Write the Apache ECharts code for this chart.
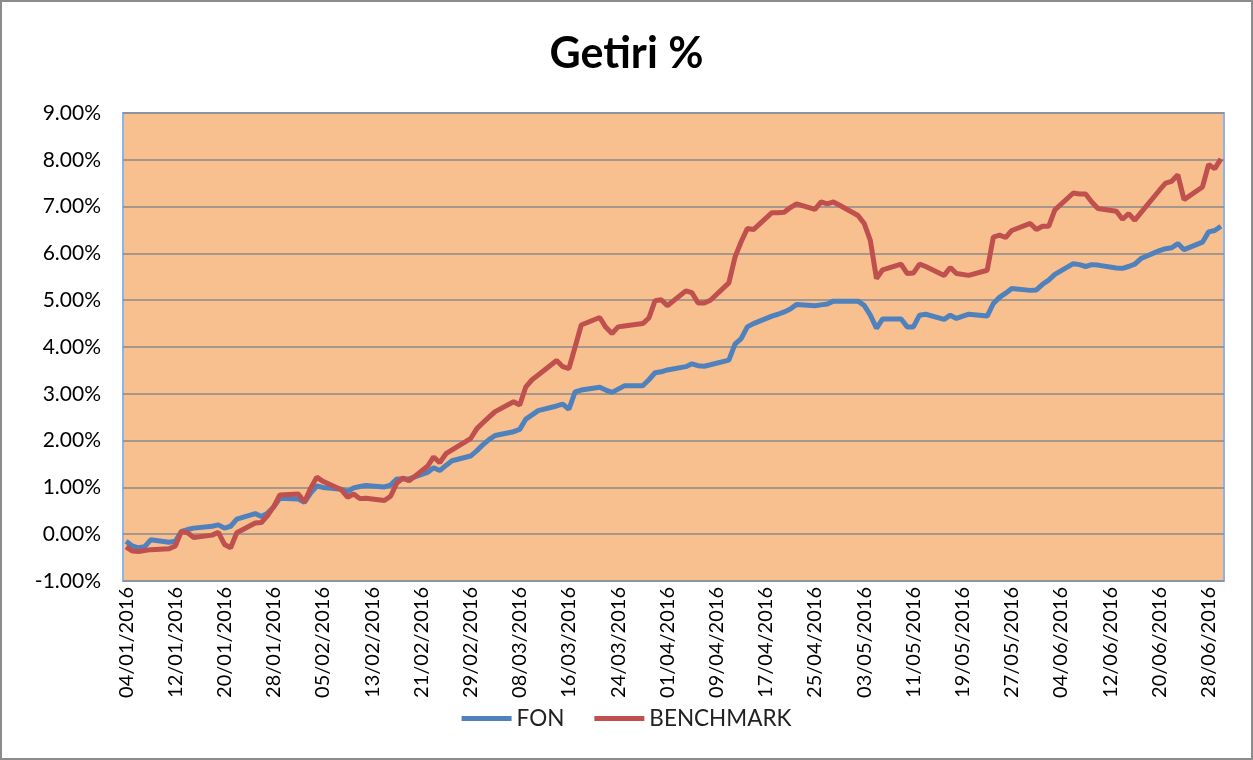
<!DOCTYPE html>
<html>
<head>
<meta charset="utf-8">
<title>Getiri %</title>
<script src="https://cdn.jsdelivr.net/npm/echarts@6/dist/echarts.min.js"></script>
<style>
  html, body { margin: 0; padding: 0; background: #fff; }
  #main { width: 1253px; height: 760px; box-sizing: border-box; border: 2px solid #8c8c8c; }
</style>
</head>
<body>
<div id="main"></div>
<script>
// gozlem gunleri (is gunleri, 2016)
var days = [
  '04/01','05/01','06/01','07/01','08/01','11/01','12/01','13/01','14/01','15/01',
  '18/01','19/01','20/01','21/01','22/01','25/01','26/01','27/01','28/01','29/01',
  '01/02','02/02','03/02','04/02','05/02','08/02','09/02','10/02','11/02','12/02',
  '15/02','16/02','17/02','18/02','19/02','22/02','23/02','24/02','25/02','26/02','29/02',
  '01/03','02/03','03/03','04/03','07/03','08/03','09/03','10/03','11/03',
  '14/03','15/03','16/03','17/03','18/03','21/03','22/03','23/03','24/03','25/03',
  '28/03','29/03','30/03','31/03',
  '01/04','04/04','05/04','06/04','07/04','08/04','11/04','12/04','13/04','14/04','15/04',
  '18/04','19/04','20/04','21/04','22/04','25/04','26/04','27/04','28/04','29/04',
  '02/05','03/05','04/05','05/05','06/05','09/05','10/05','11/05','12/05','13/05',
  '16/05','17/05','18/05','20/05','23/05','24/05','25/05','26/05','27/05','30/05','31/05',
  '01/06','02/06','03/06','06/06','07/06','08/06','09/06','10/06',
  '13/06','14/06','15/06','16/06','17/06','20/06','21/06','22/06','23/06','24/06',
  '27/06','28/06','29/06','30/06'
];

// FON getirisi (%)
var fon = [
  -0.15,-0.25,-0.29,-0.27,-0.12,-0.17,-0.15,0.06,0.10,0.13,
  0.17,0.20,0.13,0.17,0.32,0.44,0.38,0.45,0.58,0.77,
  0.75,0.68,0.88,1.03,1.00,0.96,0.91,0.99,1.02,1.04,
  1.01,1.05,1.18,1.18,1.18,1.32,1.42,1.36,1.47,1.57,1.67,
  1.78,1.91,2.02,2.11,2.19,2.24,2.46,2.55,2.64,
  2.74,2.78,2.67,3.04,3.08,3.14,3.08,3.03,3.10,3.17,
  3.17,3.30,3.45,3.47,
  3.51,3.58,3.64,3.60,3.59,3.62,3.72,4.06,4.18,4.43,4.50,
  4.66,4.70,4.75,4.81,4.91,4.88,4.90,4.92,4.98,4.98,
  4.98,4.89,4.68,4.40,4.60,4.60,4.43,4.43,4.68,4.70,
  4.59,4.68,4.61,4.70,4.66,4.93,5.06,5.15,5.25,5.21,5.22,
  5.34,5.43,5.55,5.78,5.76,5.72,5.76,5.75,
  5.69,5.68,5.72,5.77,5.89,6.06,6.10,6.12,6.21,6.08,
  6.24,6.46,6.49,6.58
];

// BENCHMARK getirisi (%)
var benchmark = [
  -0.27,-0.36,-0.37,-0.35,-0.33,-0.31,-0.25,0.06,0.03,-0.07,
  -0.02,0.04,-0.22,-0.29,0.03,0.24,0.25,0.40,0.59,0.84,
  0.86,0.69,0.98,1.22,1.13,0.95,0.79,0.86,0.76,0.77,
  0.72,0.81,1.09,1.20,1.14,1.45,1.65,1.53,1.72,1.80,2.04,
  2.25,2.38,2.50,2.62,2.83,2.76,3.15,3.30,3.40,
  3.71,3.58,3.54,4.00,4.47,4.63,4.42,4.29,4.43,4.45,
  4.50,4.62,4.99,5.01,
  4.88,5.20,5.16,4.94,4.94,5.00,5.37,5.92,6.25,6.53,6.51,
  6.87,6.87,6.88,6.98,7.06,6.94,7.10,7.06,7.10,7.03,
  6.81,6.64,6.28,5.46,5.65,5.77,5.57,5.58,5.77,5.72,
  5.53,5.70,5.57,5.53,5.64,6.35,6.39,6.34,6.49,6.64,6.51,
  6.58,6.58,6.93,7.29,7.27,7.27,7.10,6.96,
  6.90,6.73,6.85,6.71,6.87,7.35,7.50,7.54,7.68,7.15,
  7.42,7.90,7.81,8.02
];

var yTicks = [-1, 0, 1, 2, 3, 4, 5, 6, 7, 8, 9];

// eksen: 04/01/2016 - 30/06/2016 arasi tum takvim gunleri
function pad(n){ return (n < 10 ? '0' : '') + n; }
var categories = [];
var d = new Date(2016, 0, 4);
var end = new Date(2016, 5, 30);
while (d <= end) {
  categories.push(pad(d.getDate()) + '/' + pad(d.getMonth() + 1) + '/' + d.getFullYear());
  d.setDate(d.getDate() + 1);
}

function pairs(vals){
  var out = [];
  for (var i = 0; i < days.length; i++) {
    out.push([days[i] + '/2016', vals[i]]);
  }
  return out;
}

var chart = echarts.init(document.getElementById('main'));
var option = {
  backgroundColor: '#fff',
  animation: false,
  title: {
    text: 'Getiri %',
    left: 'center',
    top: 26,
    textStyle: { fontFamily: 'Lato', fontSize: 43, fontWeight: 'bold', color: '#000' }
  },
  legend: {
    bottom: 23,
    left: 'center',
    itemWidth: 50,
    itemHeight: 5,
    itemGap: 30,
    icon: 'rect',
    textStyle: { fontFamily: 'Lato', fontSize: 22.5, color: '#222' },
    data: ['FON', 'BENCHMARK']
  },
  grid: {
    left: 121,
    right: 27,
    top: 111,
    bottom: 177,
    show: true,
    backgroundColor: '#f8bf8f',
    borderColor: '#8eb4e3',
    borderWidth: 2
  },
  xAxis: {
    type: 'category',
    data: categories,
    boundaryGap: true,
    axisLine: { show: false },
    axisTick: { show: false },
    axisLabel: {
      interval: 7,
      rotate: 90,
      margin: 6,
      fontFamily: 'Lato',
      fontSize: 20,
      color: '#000'
    }
  },
  yAxis: {
    type: 'value',
    min: yTicks[0],
    max: yTicks[yTicks.length - 1],
    interval: 1,
    axisLine: { show: false },
    axisTick: { show: false },
    splitLine: { lineStyle: { color: '#8a8a8a', width: 1.5 } },
    axisLabel: {
      margin: 22,
      fontFamily: 'Lato',
      fontSize: 21,
      color: '#000',
      formatter: function (v) { return v.toFixed(2) + '%'; }
    }
  },
  series: [
    {
      name: 'FON',
      type: 'line',
      data: pairs(fon),
      symbol: 'none',
      lineStyle: { color: '#4f81bd', width: 5 },
      itemStyle: { color: '#4f81bd' }
    },
    {
      name: 'BENCHMARK',
      type: 'line',
      data: pairs(benchmark),
      symbol: 'none',
      lineStyle: { color: '#c0504d', width: 5 },
      itemStyle: { color: '#c0504d' }
    }
  ]
};
chart.setOption(option);
</script>
</body>
</html>
